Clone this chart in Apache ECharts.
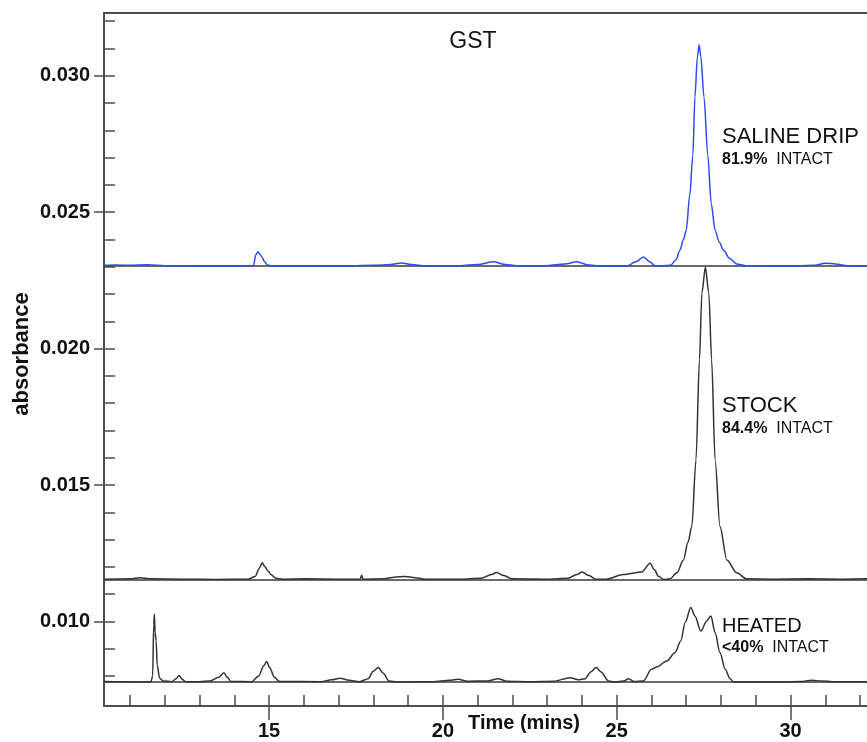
<!DOCTYPE html>
<html>
<head>
<meta charset="utf-8">
<script src="https://cdn.jsdelivr.net/npm/echarts@6/dist/echarts.min.js"></script>
<style>
html,body{margin:0;padding:0;background:#fff;}
#chart{width:867px;height:742px;}
</style>
</head>
<body>
<div id="chart"></div>
<script>
// ---- data (time in minutes, absorbance) ----
const seriesNames = ['SALINE DRIP', 'STOCK', 'HEATED'];
const intactPct = ['81.9%', '84.4%', '<40%'];
const baselines = [0.02303, 0.01154, 0.00778];

const salineDrip = [
  [10.25,0.02305],[10.6,0.02306],[11.0,0.02305],[11.5,0.02307],[12.0,0.02304],[13.0,0.02303],
  [14.0,0.02303],[14.55,0.02304],[14.62,0.02345],[14.68,0.02355],[14.74,0.02345],[14.8,0.02335],
  [14.86,0.02320],[14.95,0.02306],[15.1,0.02303],[16.0,0.02303],[17.0,0.02303],[18.0,0.02305],
  [18.5,0.02308],[18.8,0.02314],[19.1,0.02308],[19.5,0.02303],[20.5,0.02304],[21.0,0.02308],
  [21.45,0.02318],[21.8,0.02308],[22.2,0.02303],[23.0,0.02304],[23.5,0.02310],[23.85,0.02318],
  [24.2,0.02306],[24.5,0.02303],[25.3,0.02303],[25.55,0.02318],[25.77,0.02336],[25.95,0.02318],
  [26.1,0.02303],[26.55,0.02305],[26.7,0.02325],[26.82,0.02361],[26.92,0.02400],[27.0,0.02434],
  [27.1,0.02560],[27.19,0.02708],[27.25,0.02923],[27.32,0.03070],[27.37,0.03114],[27.42,0.03070],
  [27.51,0.02923],[27.62,0.02708],[27.72,0.02530],[27.83,0.02434],[27.95,0.02390],[28.07,0.02361],
  [28.25,0.02330],[28.45,0.02310],[28.7,0.02304],[29.5,0.02303],[30.0,0.02303],[30.7,0.02305],
  [31.0,0.02313],[31.3,0.02310],[31.6,0.02304],[32.2,0.02303]
];

const stock = [
  [10.25,0.01155],[11.0,0.01156],[11.3,0.01160],[11.6,0.01156],[12.5,0.01155],[13.5,0.01154],
  [14.4,0.01155],[14.6,0.01165],[14.72,0.01195],[14.8,0.01215],[14.88,0.01200],[14.97,0.01185],
  [15.05,0.01172],[15.2,0.01158],[15.4,0.01155],[16.0,0.01156],[17.0,0.01155],[17.62,0.01155],
  [17.66,0.01169],[17.7,0.01155],[18.3,0.01156],[18.6,0.01162],[18.9,0.01165],[19.2,0.01160],
  [19.5,0.01155],[20.5,0.01155],[21.1,0.01158],[21.4,0.01172],[21.55,0.01179],[21.75,0.01168],
  [22.0,0.01156],[23.0,0.01155],[23.6,0.01158],[23.85,0.01172],[24.0,0.01181],[24.2,0.01168],
  [24.4,0.01155],[24.71,0.01155],[25.19,0.01172],[25.72,0.01181],[25.96,0.01213],[26.08,0.01190],
  [26.2,0.01166],[26.35,0.01154],[26.53,0.01156],[26.73,0.01178],[26.92,0.01225],[27.05,0.01290],
  [27.16,0.01348],[27.28,0.01592],[27.38,0.01959],[27.45,0.02203],[27.55,0.02298],[27.65,0.02203],
  [27.73,0.01959],[27.83,0.01592],[27.97,0.01348],[28.17,0.01225],[28.45,0.01178],[28.74,0.01156],
  [29.5,0.01155],[30.5,0.01156],[31.5,0.01155],[32.2,0.01156]
];

const heated = [
  [10.25,0.00780],[10.8,0.00779],[11.3,0.00778],[11.6,0.00779],[11.65,0.00800],[11.68,0.00990],
  [11.7,0.01026],[11.72,0.00960],[11.75,0.00928],[11.78,0.00840],[11.85,0.00792],[11.95,0.00782],
  [12.2,0.00779],[12.32,0.00790],[12.41,0.00802],[12.5,0.00788],[12.6,0.00779],[13.0,0.00779],
  [13.3,0.00782],[13.55,0.00795],[13.7,0.00812],[13.8,0.00795],[13.9,0.00780],[14.5,0.00779],
  [14.7,0.00800],[14.85,0.00838],[14.93,0.00853],[15.02,0.00830],[15.15,0.00795],[15.3,0.00780],
  [16.5,0.00779],[16.8,0.00786],[17.04,0.00792],[17.3,0.00784],[17.6,0.00779],[17.85,0.00790],
  [18.0,0.00818],[18.14,0.00831],[18.28,0.00810],[18.45,0.00782],[18.7,0.00778],[19.7,0.00779],
  [20.2,0.00784],[20.44,0.00788],[20.7,0.00781],[21.3,0.00782],[21.59,0.00790],[21.85,0.00781],
  [22.5,0.00779],[23.2,0.00781],[23.66,0.00794],[23.9,0.00786],[24.09,0.00790],[24.25,0.00815],
  [24.41,0.00831],[24.55,0.00815],[24.76,0.00782],[24.95,0.00778],[25.2,0.00782],[25.34,0.00790],
  [25.5,0.00780],[25.77,0.00782],[26.0,0.00825],[26.15,0.00833],[26.44,0.00855],[26.68,0.00886],
  [26.84,0.00928],[26.97,0.00996],[27.13,0.01051],[27.25,0.01020],[27.42,0.00965],[27.59,0.01002],
  [27.71,0.01020],[27.83,0.00959],[27.97,0.00886],[28.12,0.00825],[28.26,0.00790],[28.36,0.00778],
  [29.5,0.00778],[30.3,0.00780],[30.6,0.00784],[30.9,0.00782],[31.2,0.00779],[32.2,0.00779]
];

const xMinorTicks = [11,12,13,14,15,16,17,18,19,20,21,22,23,24,25,26,27,28,29,30,31,32];
const xMajorTicks = [15,20,25,30];
const yMinorTicks = [0.008,0.009,0.010,0.011,0.012,0.013,0.014,0.015,0.016,0.017,0.018,0.019,0.020,
                     0.021,0.022,0.023,0.024,0.025,0.026,0.027,0.028,0.029,0.030,0.031,0.032];
const yMajorTicks = [0.010,0.015,0.020,0.025,0.030];

// ---- layout / style ----
const tMin = 10.25, tMax = 32.2, aMin = 0.0069, aMax = 0.0323;
const FONT = '"Liberation Sans", Arial, sans-serif';
const axisColor = '#4d4d4d';
const axisLineStyle = {color: axisColor, width: 2};
const tickLineStyle = {color: axisColor, width: 1.5};
const traceColors = ['#2b4cf2', '#333333', '#333333'];
const traces = [salineDrip, stock, heated];

const chart = echarts.init(document.getElementById('chart'), null, {renderer: 'canvas'});

const series = traces.map((d, i) => ({
  name: seriesNames[i],
  type: 'line',
  xAxisIndex: 0,
  yAxisIndex: 0,
  data: d,
  symbol: 'none',
  showSymbol: false,
  smooth: 0.3,
  smoothMonotone: 'x',
  z: 3 + (i === 0 ? 1 : 0),
  lineStyle: {color: traceColors[i], width: 1.5},
  itemStyle: {color: traceColors[i]},
  markLine: {
    silent: true,
    z: 1,
    precision: 6,
    symbol: ['none', 'none'],
    label: {show: false},
    lineStyle: {color: '#3a3a3a', width: 1.6, type: 'solid'},
    data: [{yAxis: baselines[i]}]
  }
}));

const labelY = [136.5, 406, 626.3];
const labelSize = [22, 22, 20];
const subY = [160, 428.5, 648];
const graphics = [
  {type: 'text', x: 473, y: 42, style: {text: 'GST', font: '23px ' + FONT, fill: '#111', align: 'center', verticalAlign: 'middle'}},
  {type: 'text', x: 22, y: 354, rotation: Math.PI / 2,
   style: {text: 'absorbance', font: 'bold 22px ' + FONT, fill: '#111', align: 'center', verticalAlign: 'middle'}},
  {type: 'text', x: 524, y: 723, style: {text: 'Time (mins)', font: 'bold 20px ' + FONT, fill: '#111', align: 'center', verticalAlign: 'middle'}}
];
seriesNames.forEach((n, i) => {
  graphics.push({type: 'text', x: 722, y: labelY[i],
    style: {text: n, font: labelSize[i] + 'px ' + FONT, fill: '#111', align: 'left', verticalAlign: 'middle'}});
  graphics.push({type: 'text', x: 722, y: subY[i],
    style: {text: '{b|' + intactPct[i] + '}{n|  INTACT}', align: 'left', verticalAlign: 'middle',
      rich: {
        b: {fontFamily: FONT, fontSize: 16, fontWeight: 'bold', fill: '#111', color: '#111'},
        n: {fontFamily: FONT, fontSize: 16, fill: '#111', color: '#111'}
      }}});
});

chart.setOption({
  animation: false,
  backgroundColor: '#ffffff',
  grid: {left: 104, top: 13, right: 0, bottom: 36, containLabel: false},
  xAxis: [
    {type: 'value', min: tMin, max: tMax, position: 'bottom',
     axisLine: {show: true, onZero: false, lineStyle: axisLineStyle},
     axisTick: {show: true, inside: true, length: 11, customValues: xMinorTicks, lineStyle: tickLineStyle},
     axisLabel: {show: false}, splitLine: {show: false}},
    {type: 'value', min: tMin, max: tMax, position: 'bottom',
     axisLine: {show: false, onZero: false},
     axisTick: {show: true, inside: false, length: 14, customValues: xMajorTicks, lineStyle: tickLineStyle},
     axisLabel: {show: true, customValues: xMajorTicks, margin: 15, fontSize: 20, fontWeight: 'bold',
                 fontFamily: FONT, color: '#111'},
     splitLine: {show: false}},
    {type: 'value', min: tMin, max: tMax, position: 'top',
     axisLine: {show: true, onZero: false, lineStyle: axisLineStyle},
     axisTick: {show: false}, axisLabel: {show: false}, splitLine: {show: false}}
  ],
  yAxis: [
    {type: 'value', min: aMin, max: aMax, position: 'left',
     axisLine: {show: true, onZero: false, lineStyle: axisLineStyle},
     axisTick: {show: true, inside: true, length: 11, customValues: yMinorTicks, lineStyle: tickLineStyle},
     axisLabel: {show: false}, splitLine: {show: false}},
    {type: 'value', min: aMin, max: aMax, position: 'left',
     axisLine: {show: false, onZero: false},
     axisTick: {show: true, inside: false, length: 10, customValues: yMajorTicks, lineStyle: tickLineStyle},
     axisLabel: {show: true, customValues: yMajorTicks, margin: 14, fontSize: 20, fontWeight: 'bold',
                 fontFamily: FONT, color: '#111', formatter: v => v.toFixed(3)},
     splitLine: {show: false}}
  ],
  series: series,
  graphic: graphics
});
</script>
</body>
</html>
